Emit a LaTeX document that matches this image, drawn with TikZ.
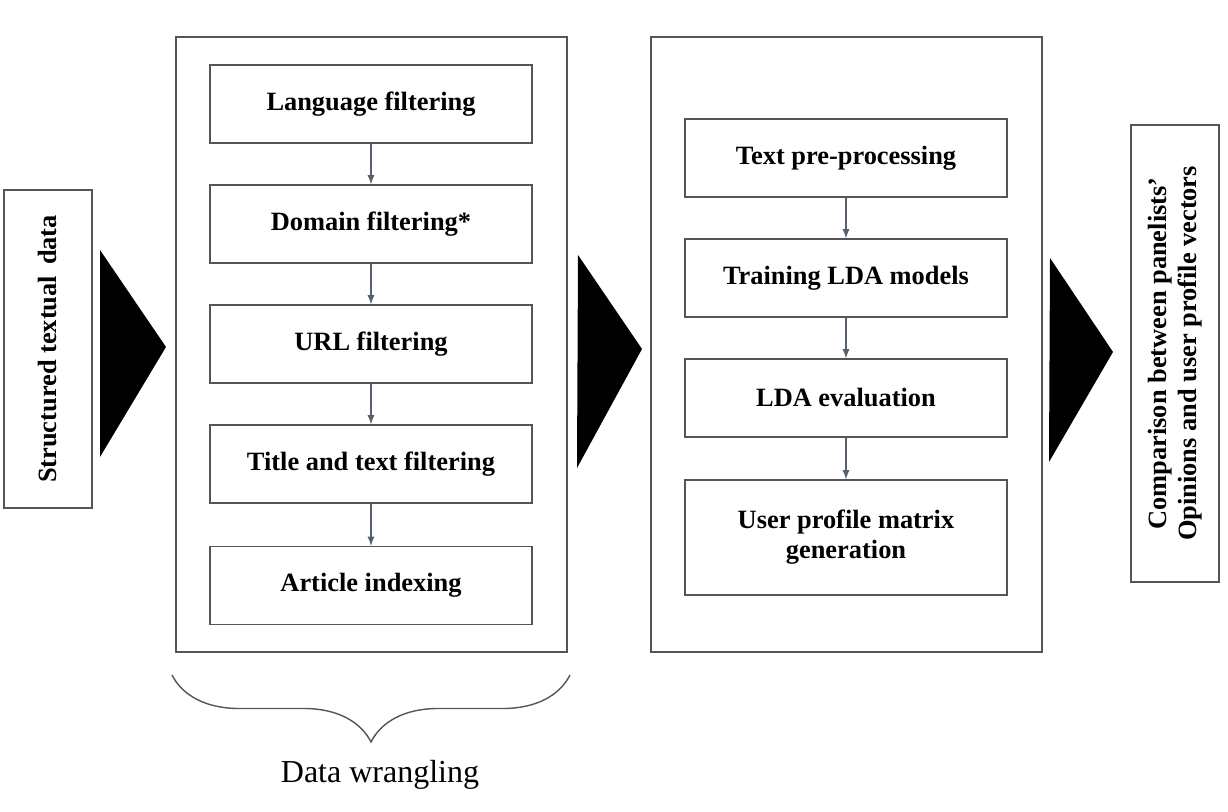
\documentclass[tikz,border=0pt]{standalone}
\usepackage{fontspec}
\setmainfont{Liberation Serif}
\usetikzlibrary{arrows,decorations.pathreplacing}
\begin{document}
\begin{tikzpicture}[x=0.5pt,y=-0.5pt]
  \definecolor{frame}{HTML}{555555}
  \definecolor{link}{HTML}{56606E}
  \tikzset{stepbox/.style={draw=frame,line width=0.6pt,minimum width=161pt,minimum height=39pt,align=center,font=\bfseries\fontsize{13.2}{15}\selectfont},
    sidebox/.style={draw=frame,line width=0.6pt,rotate=90,minimum height=44pt,align=center,font=\bfseries\fontsize{13.2}{15}\selectfont},
    stage/.style={draw=frame,line width=0.6pt,minimum width=195.5pt,minimum height=307.5pt},
    flow/.style={link,line width=0.6pt,-latex}}
  \useasboundingbox (0,0) rectangle (1228,812);
  % input and output
  \node [sidebox,minimum width=159pt] (input) at (48,349) {Structured textual\, data};
  \node [sidebox,minimum width=228.5pt] (output) at (1175,353.5) {Comparison between panelists'\\Opinions and user profile vectors};
  % stages
  \node [stage] (wrangle) at (371.5,344.5) {};
  \node [stage] (model) at (846.5,344.5) {};
  \fill (100,250) -- (166,347) -- (100,457) -- cycle;
  \fill (578,255) -- (642,349) -- (577,468) -- cycle;
  \fill (1050,258) -- (1113,352) -- (1049,462) -- cycle;
  % data wrangling steps
  \node [stepbox] (lang) at (371,104) {Language filtering};
  \node [stepbox] (domain) at (371,224) {Domain filtering*};
  \node [stepbox] (url) at (371,344) {URL filtering};
  \node [stepbox] (title) at (371,464) {Title and text filtering};
  \node [stepbox] (index) at (371,585.5) {Article indexing};
  \draw [flow] (lang) -- (domain);
  \draw [flow] (domain) -- (url);
  \draw [flow] (url) -- (title);
  \draw [flow] (title) -- (index);
  % topic modelling steps
  \node [stepbox] (prep) at (846,158) {Text pre-processing};
  \node [stepbox] (train) at (846,278) {Training LDA models};
  \node [stepbox] (eval) at (846,398) {LDA evaluation};
  \node [stepbox,minimum height=57.5pt] (matrix) at (846,537.5) {User profile matrix\\generation};
  \draw [flow] (prep) -- (train);
  \draw [flow] (train) -- (eval);
  \draw [flow] (eval) -- (matrix);
  % brace
  \draw [frame,line width=0.7pt,decorate,decoration={brace,mirror,amplitude=33.5pt}] (172,675) -- (570,675);
  \node [font=\fontsize{16}{18}\selectfont] (wrangling) at (380,775) {Data wrangling};
\end{tikzpicture}
\end{document}
